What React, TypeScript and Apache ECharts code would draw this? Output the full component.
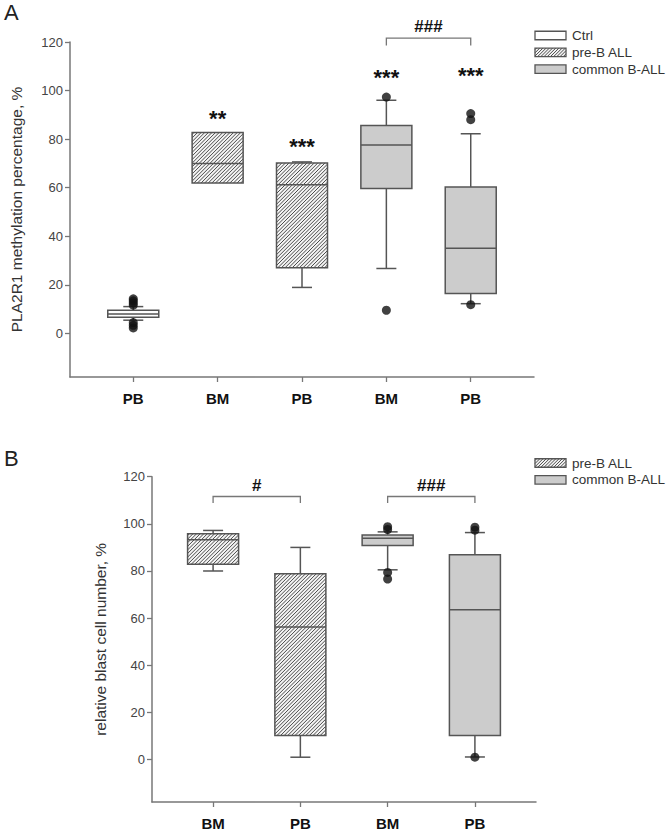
import React, { useEffect, useRef } from "react";
import * as echarts from "echarts";

// ---------- Panel A data ----------
const catsA = ["PB", "BM", "PB", "BM", "PB"];
const kindA = [0, 1, 1, 2, 2]; // 0 Ctrl, 1 pre-B ALL, 2 common B-ALL
const minA = [5.4, 61.9, 18.9, 26.7, 12.2];
const q1A = [6.6, 61.9, 27.0, 59.6, 16.4];
const medA = [8.0, 70.0, 61.2, 77.6, 35.0];
const q3A = [9.5, 82.7, 70.2, 85.6, 60.3];
const maxA = [11.0, 82.7, 70.6, 96.0, 82.2];
const outlierXA = [1, 1, 1, 1, 1, 1, 1, 4, 4, 5, 5, 5];
const outlierYA = [2.2, 3.3, 4.4, 11.6, 12.5, 13.4, 14.2, 97.3, 9.5, 90.5, 88.0, 11.8];
const starsA = ["", "**", "***", "***", "***"];
const starYA = [0, 90, 78.5, 107.2, 108];
const bracketFromA = [4];
const bracketToA = [5];
const bracketLabelA = ["###"];
const bracketYA = 121.6;
const bracketEndYA = 118.6;
const bracketTextYA = 126.2;

// ---------- Panel B data ----------
const catsB = ["BM", "PB", "BM", "PB"];
const kindB = [1, 1, 2, 2];
const minB = [80.0, 1.0, 80.5, 1.1];
const q1B = [82.9, 10.2, 90.8, 10.2];
const medB = [93.2, 56.2, 93.9, 63.6];
const q3B = [95.8, 78.8, 95.3, 86.9];
const maxB = [97.2, 90.0, 96.6, 96.3];
const outlierXB = [3, 3, 3, 3, 4, 4, 4];
const outlierYB = [97.6, 98.8, 79.4, 76.6, 97.3, 98.6, 1.0];
const bracketFromB = [1, 3];
const bracketToB = [2, 4];
const bracketLabelB = ["#", "###"];
const bracketYB = 111.6;
const bracketEndYB = 108.8;
const bracketTextYB = 116.2;

const yTicks = [0, 20, 40, 60, 80, 100, 120];
const legendA = ["Ctrl", "pre-B ALL", "common B-ALL"];
const legendB = ["pre-B ALL", "common B-ALL"];
const legendKindB = [1, 2];

const FONT = "'Liberation Sans', Arial, sans-serif";
const BOX_W = 51;
const CAP_W = 20;
const FILLS = ["#ffffff", "#f4f4f4", "#cccccc"];
const EDGE = "#555555";
const HATCH = "#4a4a4a";

function hatchLines(x0: number, y0: number, x1: number, y1: number, step: number) {
  const out: any[] = [];
  const cStart = x0 + y0;
  const cEnd = x1 + y1;
  for (let c = cStart + step / 2; c < cEnd; c += step) {
    const xa = Math.max(x0, c - y1);
    const xb = Math.min(x1, c - y0);
    if (xb <= xa) continue;
    out.push({
      type: "line",
      shape: { x1: xa, y1: c - xa, x2: xb, y2: c - xb },
      style: { stroke: HATCH, lineWidth: 1 },
      silent: true,
    });
  }
  return out;
}

function boxRender(params: any, api: any) {
  const x = api.value(0);
  const vMin = api.value(1);
  const vQ1 = api.value(2);
  const vMed = api.value(3);
  const vQ3 = api.value(4);
  const vMax = api.value(5);
  const kind = api.value(6);
  const cx = api.coord([x, vMed])[0];
  const yMin = api.coord([x, vMin])[1];
  const yQ1 = api.coord([x, vQ1])[1];
  const yMed = api.coord([x, vMed])[1];
  const yQ3 = api.coord([x, vQ3])[1];
  const yMax = api.coord([x, vMax])[1];
  const x0 = cx - BOX_W / 2;
  const x1 = cx + BOX_W / 2;
  const children: any[] = [];
  const lineStyle = { stroke: EDGE, lineWidth: 1.5 };
  if (yMax < yQ3 - 0.3) {
    children.push({ type: "line", shape: { x1: cx, y1: yQ3, x2: cx, y2: yMax }, style: lineStyle });
    children.push({ type: "line", shape: { x1: cx - CAP_W / 2, y1: yMax, x2: cx + CAP_W / 2, y2: yMax }, style: lineStyle });
  }
  if (yMin > yQ1 + 0.3) {
    children.push({ type: "line", shape: { x1: cx, y1: yQ1, x2: cx, y2: yMin }, style: lineStyle });
    children.push({ type: "line", shape: { x1: cx - CAP_W / 2, y1: yMin, x2: cx + CAP_W / 2, y2: yMin }, style: lineStyle });
  }
  children.push({
    type: "rect",
    shape: { x: x0, y: yQ3, width: BOX_W, height: yQ1 - yQ3 },
    style: { fill: FILLS[kind], stroke: "none" },
  });
  if (kind === 1) children.push(...hatchLines(x0, yQ3, x1, yQ1, 3.6));
  children.push({
    type: "rect",
    shape: { x: x0, y: yQ3, width: BOX_W, height: yQ1 - yQ3 },
    style: { fill: "none", stroke: EDGE, lineWidth: 1.5 },
  });
  children.push({ type: "line", shape: { x1: x0, y1: yMed, x2: x1, y2: yMed }, style: lineStyle });
  return { type: "group", children };
}

function starRender(labels: string[]) {
  return (params: any, api: any) => {
    const idx = params.dataIndex;
    const p = api.coord([api.value(0), api.value(1)]);
    return {
      type: "text",
      x: p[0],
      y: p[1] + 4,
      style: {
        text: labels[idx],
        font: `bold 22px ${FONT}`,
        fill: "#111",
        align: "center",
        verticalAlign: "middle",
        textAlign: "center",
        textVerticalAlign: "middle",
      },
    };
  };
}

function bracketRender(labels: string[], topY: number, endY: number, textY: number) {
  return (params: any, api: any) => {
    const idx = params.dataIndex;
    const a = api.coord([api.value(0), topY]);
    const b = api.coord([api.value(1), topY]);
    const yEnd = api.coord([api.value(0), endY])[1];
    const t = api.coord([(api.value(0) + api.value(1)) / 2, textY]);
    return {
      type: "group",
      children: [
        {
          type: "polyline",
          shape: { points: [[a[0], yEnd], [a[0], a[1]], [b[0], b[1]], [b[0], yEnd]] },
          style: { stroke: "#777", lineWidth: 1.3, fill: "none" },
        },
        {
          type: "text",
          x: t[0],
          y: t[1],
          style: {
            text: labels[idx],
            font: `bold 17px ${FONT}`,
            fill: "#111",
            align: "center",
            verticalAlign: "middle",
            textAlign: "center",
            textVerticalAlign: "middle",
          },
        },
      ],
    };
  };
}

function legendGraphic(names: string[], kinds: number[], top: number) {
  const els: any[] = [];
  names.forEach((n, i) => {
    const cy = top + i * 16.8;
    const x0 = 535, w = 31, h = 8.5;
    const y0 = cy - h / 2;
    els.push({ type: "rect", shape: { x: x0, y: y0, width: w, height: h }, style: { fill: FILLS[kinds[i]], stroke: "none" } });
    if (kinds[i] === 1) els.push(...hatchLines(x0, y0, x0 + w, y0 + h, 3.2));
    els.push({ type: "rect", shape: { x: x0, y: y0, width: w, height: h }, style: { fill: "none", stroke: EDGE, lineWidth: 1.3 } });
    els.push({
      type: "text",
      x: 572,
      y: cy,
      style: { text: n, font: `13.5px ${FONT}`, fill: "#333", textVerticalAlign: "middle", verticalAlign: "middle" },
    });
  });
  return els;
}

export default function App() {
  const ref = useRef<HTMLDivElement>(null);
  useEffect(() => {
    if (!ref.current) return;
    const chart = echarts.init(ref.current, null, { renderer: "svg" });

    const xAxisCommon = (cats: string[], min: number, max: number, gi: number) => ({
      type: "value",
      gridIndex: gi,
      min,
      max,
      position: "bottom",
      axisLine: { onZero: false, lineStyle: { color: "#777", width: 1.5 } },
      axisTick: { show: true, length: 5, customValues: cats.map((_, i) => i + 1), lineStyle: { color: "#777", width: 1.3 } },
      axisLabel: {
        customValues: cats.map((_, i) => i + 1),
        formatter: (v: number) => cats[Math.round(v) - 1] ?? "",
        fontFamily: FONT,
        fontWeight: "bold",
        fontSize: 15,
        color: "#111",
        margin: 14,
      },
      splitLine: { show: false },
    });
    const yAxisCommon = (name: string, gi: number, gap: number, size: number) => ({
      type: "value",
      gridIndex: gi,
      min: -18,
      max: 120,
      name,
      nameLocation: "middle",
      nameGap: gap,
      nameTextStyle: { fontFamily: FONT, fontSize: size, color: "#333" },
      axisLine: { show: true, onZero: false, lineStyle: { color: "#777", width: 1.5 } },
      axisTick: { show: true, length: 5, customValues: yTicks, lineStyle: { color: "#777", width: 1.3 } },
      axisLabel: { customValues: yTicks, fontFamily: FONT, fontSize: 13, color: "#444", margin: 7 },
      splitLine: { show: false },
    });

    const boxDataA = catsA.map((_, i) => [i + 1, minA[i], q1A[i], medA[i], q3A[i], maxA[i], kindA[i]]);
    const boxDataB = catsB.map((_, i) => [i + 1, minB[i], q1B[i], medB[i], q3B[i], maxB[i], kindB[i]]);
    const outA = outlierXA.map((x, i) => [x, outlierYA[i]]);
    const outB = outlierXB.map((x, i) => [x, outlierYB[i]]);
    const starData = starsA.map((s, i) => [i + 1, starYA[i]]).filter((_, i) => starsA[i] !== "");
    const starLabels = starsA.filter((s) => s !== "");

    chart.setOption({
      animation: false,
      backgroundColor: "#ffffff",
      textStyle: { fontFamily: FONT },
      grid: [
        { left: 67, right: 132, top: 42, height: 335 },
        { left: 152, right: 130, top: 476.7, height: 326 },
      ],
      xAxis: [xAxisCommon(catsA, 0.25, 5.75, 0), xAxisCommon(catsB, 0.3, 4.7, 1)],
      yAxis: [
        yAxisCommon("PLA2R1 methylation percentage, %", 0, 46, 15.5),
        yAxisCommon("relative blast cell number, %", 1, 44, 15.5),
      ],
      graphic: [
        { type: "text", x: 4, y: 1, style: { text: "A", font: `22px ${FONT}`, fill: "#222" } },
        { type: "text", x: 4, y: 447, style: { text: "B", font: `22px ${FONT}`, fill: "#222" } },
        ...legendGraphic(legendA, [0, 1, 2], 35.5),
        ...legendGraphic(legendB, legendKindB, 463),
      ],
      series: [
        { type: "custom", xAxisIndex: 0, yAxisIndex: 0, renderItem: boxRender, data: boxDataA, encode: { x: 0, y: [1, 2, 3, 4, 5] }, z: 2 },
        { type: "scatter", xAxisIndex: 0, yAxisIndex: 0, data: outA, symbolSize: 9, itemStyle: { color: "#111" }, z: 3 },
        { type: "custom", xAxisIndex: 0, yAxisIndex: 0, renderItem: starRender(starLabels), data: starData, encode: { x: 0, y: 1 }, z: 4 },
        {
          type: "custom", xAxisIndex: 0, yAxisIndex: 0,
          renderItem: bracketRender(bracketLabelA, bracketYA, bracketEndYA, bracketTextYA),
          data: bracketFromA.map((f, i) => [f, bracketToA[i]]), encode: { x: [0, 1] }, z: 4,
        },
        { type: "custom", xAxisIndex: 1, yAxisIndex: 1, renderItem: boxRender, data: boxDataB, encode: { x: 0, y: [1, 2, 3, 4, 5] }, z: 2 },
        { type: "scatter", xAxisIndex: 1, yAxisIndex: 1, data: outB, symbolSize: 9, itemStyle: { color: "#111" }, z: 3 },
        {
          type: "custom", xAxisIndex: 1, yAxisIndex: 1,
          renderItem: bracketRender(bracketLabelB, bracketYB, bracketEndYB, bracketTextYB),
          data: bracketFromB.map((f, i) => [f, bracketToB[i]]), encode: { x: [0, 1] }, z: 4,
        },
      ],
    });
    return () => chart.dispose();
  }, []);
  return (
    <div
      ref={ref}
      style={{ position: "absolute", left: 0, top: 0, width: 666, height: 831, background: "#fff" }}
    />
  );
}
